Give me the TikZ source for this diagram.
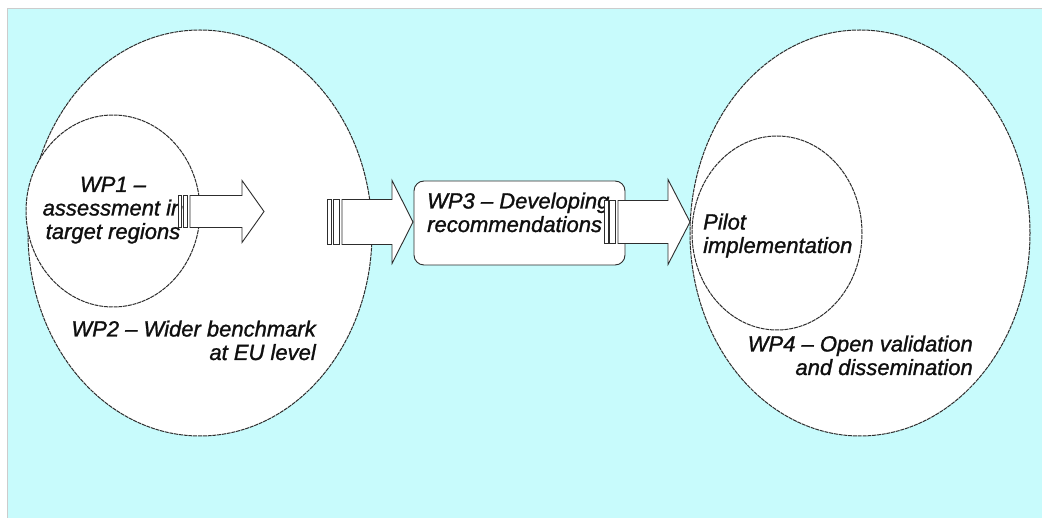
\documentclass[tikz,border=0pt]{standalone}
\usepackage{fontspec}
\setmainfont{Liberation Sans}[ItalicFeatures={FakeBold=1.2}]
\usetikzlibrary{shapes.geometric}
\definecolor{bgcyan}{RGB}{200,251,252}
\definecolor{inkgray}{RGB}{45,45,45}
\definecolor{txt}{RGB}{15,15,15}
\newcommand{\striparrow}[7]{%
  \pgfmathsetmacro{\sw}{#2-#1}%
  \path[arrowshape] (#2,#5-#6) -- (#3,#5-#6) -- (#3,#5-#7) -- (#4,#5) -- (#3,#5+#7) -- (#3,#5+#6) -- (#2,#5+#6) -- cycle;
  \path[arrowshape] (#1,#5-#6) rectangle ({#1+0.3*\sw},#5+#6);
  \path[arrowshape] ({#1+0.42*\sw},#5-#6) rectangle ({#1+0.8*\sw},#5+#6);
}
\begin{document}
\begin{tikzpicture}[x=1pt,y=-1pt,
  bubble/.style={ellipse,draw=inkgray,fill=white,line width=1pt,dash pattern=on 4pt off 0.8pt,inner sep=0pt},
  arrowshape/.style={draw=inkgray,fill=white,line width=0.9pt,line join=miter},
  label/.style={font=\itshape\fontsize{22}{23.5}\selectfont,text=txt,inner sep=0pt},
  wpbox/.style={draw=inkgray,fill=white,line width=0.9pt,rounded corners=10pt}]
\useasboundingbox (0,0) rectangle (1042,518);
\fill[white] (0,0) rectangle (1042,518);
\filldraw[fill=bgcyan,draw=black!20,line width=0.6pt] (7,8) rectangle (1043,519);
% left group
\node[bubble,minimum width=344pt,minimum height=406pt] (wp2) at (200,233) {};
\node[bubble,minimum width=174pt,minimum height=192pt] (wp1) at (113,211) {};
\node[label,align=center,anchor=base] (wp1t) at (113,239) {WP1 –\\assessment in\\target regions};
\node[label,align=right,anchor=base east] (wp2t) at (316,360) {WP2 – Wider benchmark\\at EU level};
\striparrow{178}{190}{242}{264}{211.5}{16}{31}
\striparrow{327}{342}{392}{413}{222}{22.5}{41.5}
% middle box
\path[wpbox] (414,181) rectangle (625,265);
\node[label,align=left,anchor=base west] (wp3t) at (427,232) {WP3 – Developing\\recommendations};
% right group
\node[bubble,minimum width=340pt,minimum height=406pt] (wp4) at (860,233) {};
\node[bubble,minimum width=170pt,minimum height=194pt] (pilot) at (777,233) {};
\node[label,align=left,anchor=base west] (pilott) at (703,253) {Pilot\\implementation};
\node[label,align=right,anchor=base east] (wp4t) at (973,375) {WP4 – Open validation\\and dissemination};
\striparrow{604}{618}{668}{690}{222}{21.5}{42.5}
\end{tikzpicture}
\end{document}
